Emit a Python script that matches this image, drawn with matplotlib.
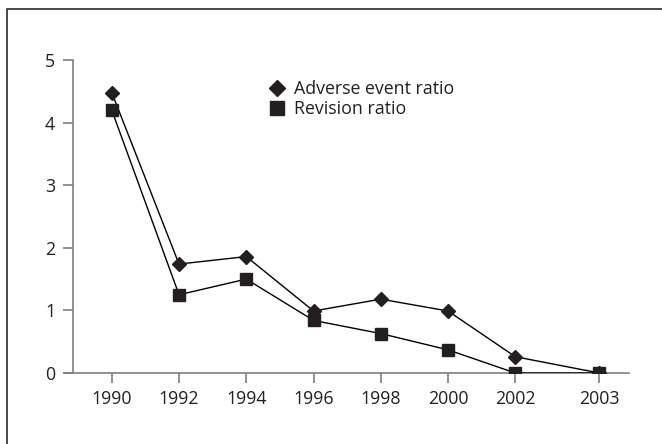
import matplotlib
matplotlib.use("Agg")
import matplotlib.pyplot as plt
from matplotlib.lines import Line2D

years = ["1990", "1992", "1994", "1996", "1998", "2000", "2002", "2003"]
# last category sits a bit further out in the original
xpos = [0, 1, 2, 3, 4, 5, 6, 7.25]
adverse = [4.48, 1.74, 1.86, 0.99, 1.18, 0.99, 0.26, 0.0]
revision = [4.20, 1.25, 1.50, 0.84, 0.63, 0.37, 0.0, 0.0]

plt.rcParams["font.family"] = ["Open Sans", "DejaVu Sans"]
txt = "#231f20"
axc = "#7f7f7f"
fs = 12.8

fig = plt.figure(figsize=(6.62, 4.44), dpi=100)
ax = fig.add_axes([64 / 662, 71 / 444, 565 / 662, 313 / 444])

ax.plot(xpos, adverse, color="black", lw=1.0, marker="D", ms=7.5,
        mfc=txt, mec=txt, zorder=3)
ax.plot(xpos, revision, color="black", lw=1.0, marker="s", ms=8.5,
        mfc=txt, mec=txt, zorder=3)

ax.set_xlim(-0.71, 7.69)
ax.set_ylim(0, 5)
ax.set_xticks(xpos)
ax.set_xticklabels(years)
ax.set_yticks(range(6))

for s in ["top", "right"]:
    ax.spines[s].set_visible(False)
ax.spines["left"].set_position(("data", -0.575))
ax.spines["left"].set_color(axc)
ax.spines["bottom"].set_color(axc)
ax.spines["left"].set_linewidth(1.2)
ax.spines["bottom"].set_linewidth(1.2)
ax.tick_params(axis="both", colors=axc, labelcolor=txt, labelsize=fs,
               length=7, width=1.2)
ax.tick_params(axis="x", pad=5)
ax.tick_params(axis="y", pad=6)

handles = [
    Line2D([], [], ls="None", marker="D", ms=8.5, mfc=txt, mec=txt),
    Line2D([], [], ls="None", marker="s", ms=9.5, mfc=txt, mec=txt),
]
ax.legend(handles, ["Adverse event ratio", "Revision ratio"],
          loc="upper left", bbox_to_anchor=((268 - 64) / 565, (373 - 80) / 313),
          frameon=False, borderpad=0, borderaxespad=0, handlelength=1.0,
          handletextpad=0.45, labelspacing=0.1, fontsize=fs, labelcolor=txt)

# frame of the original figure, only top and left edges are in view
fig.add_artist(Line2D([7 / 662, 7 / 662, 1.0], [0.0, 435 / 444, 435 / 444],
                      transform=fig.transFigure, color="#3a3a3a", lw=1.3))

fig.savefig("out.png", dpi=100)
